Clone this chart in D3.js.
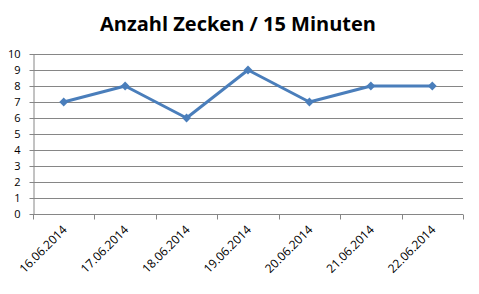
<!DOCTYPE html>
<html>
<head>
<meta charset="utf-8">
<script src="https://cdn.jsdelivr.net/npm/d3@7"></script>
<style>
  body { margin: 0; background: #fff; }
  text { font-family: "Open Sans", "DejaVu Sans", sans-serif; fill: #000; }
</style>
</head>
<body>
<script>
// Anzahl Zecken pro 15 Minuten
var dates = ['16.06.2014', '17.06.2014', '18.06.2014', '19.06.2014', '20.06.2014', '21.06.2014', '22.06.2014']
var counts = [7, 8, 6, 9, 7, 8, 8]
var yTicks = [0, 1, 2, 3, 4, 5, 6, 7, 8, 9, 10]

var width = 479, height = 294
var margin = { top: 54, right: 16, bottom: 80, left: 33 }
var w = width - margin.left - margin.right,
    h = height - margin.top - margin.bottom

var svg = d3.select('body').append('svg')
  .attr('width', width)
  .attr('height', height)

svg.append('text')
  .attr('x', 238)
  .attr('y', 31)
  .attr('text-anchor', 'middle')
  .style('font-size', '20px')
  .style('font-weight', 'bold')
  .text('Anzahl Zecken / 15 Minuten')

var g = svg.append('g')
  .attr('transform', 'translate(' + margin.left + ',' + margin.top + ')')

var x = d3.scaleBand().domain(dates).range([0, w])
var y = d3.scaleLinear().domain([0, 10]).range([h, 0])

// gridlines
g.selectAll('line.grid')
  .data(yTicks.filter(function(d) { return d > 0 }))
  .enter().append('line')
  .attr('class', 'grid')
  .attr('x1', 0).attr('x2', w)
  .attr('y1', function(d) { return Math.round(y(d)) + 0.5 })
  .attr('y2', function(d) { return Math.round(y(d)) + 0.5 })
  .style('stroke', '#868686')

// y axis
var yAxis = g.append('g')
  .attr('transform', 'translate(0.5,0)')
  .call(d3.axisLeft(y).tickValues(yTicks).tickSize(4).tickSizeOuter(0).tickPadding(9))
yAxis.selectAll('line, path').style('stroke', '#868686')
yAxis.selectAll('text').style('font-size', '11px').style('font-family', '"Open Sans", sans-serif')

// x axis with ticks at category boundaries
var xAxis = g.append('g')
  .attr('transform', 'translate(0,' + (Math.round(h) + 0.5) + ')')
xAxis.append('line')
  .attr('x1', 0).attr('x2', w)
  .style('stroke', '#868686')
var bounds = dates.map(function(d) { return x(d) }).concat([w])
xAxis.selectAll('line.tick')
  .data(bounds)
  .enter().append('line')
  .attr('class', 'tick')
  .attr('x1', function(d) { return Math.round(d) + 0.5 })
  .attr('x2', function(d) { return Math.round(d) + 0.5 })
  .attr('y1', 0).attr('y2', 5)
  .style('stroke', '#868686')
xAxis.selectAll('text')
  .data(dates)
  .enter().append('text')
  .attr('transform', function(d) {
    return 'translate(' + (x(d) + x.bandwidth() / 2 + 1) + ',13)rotate(-45)'
  })
  .attr('text-anchor', 'end')
  .attr('dy', '0.35em')
  .style('font-size', '12px')
  .text(function(d) { return d })

// line
var line = d3.line()
  .x(function(d, i) { return x(dates[i]) + x.bandwidth() / 2 })
  .y(function(d) { return y(d) })

g.append('path')
  .datum(counts)
  .attr('d', line)
  .style('fill', 'none')
  .style('stroke', '#4a7ebb')
  .style('stroke-width', 3)
  .style('stroke-linejoin', 'round')

g.selectAll('path.marker')
  .data(counts)
  .enter().append('path')
  .attr('class', 'marker')
  .attr('d', d3.symbol().type(d3.symbolDiamond2).size(50))
  .attr('transform', function(d, i) {
    return 'translate(' + (x(dates[i]) + x.bandwidth() / 2) + ',' + y(d) + ')'
  })
  .style('fill', '#4a7ebb')
</script>
</body>
</html>
